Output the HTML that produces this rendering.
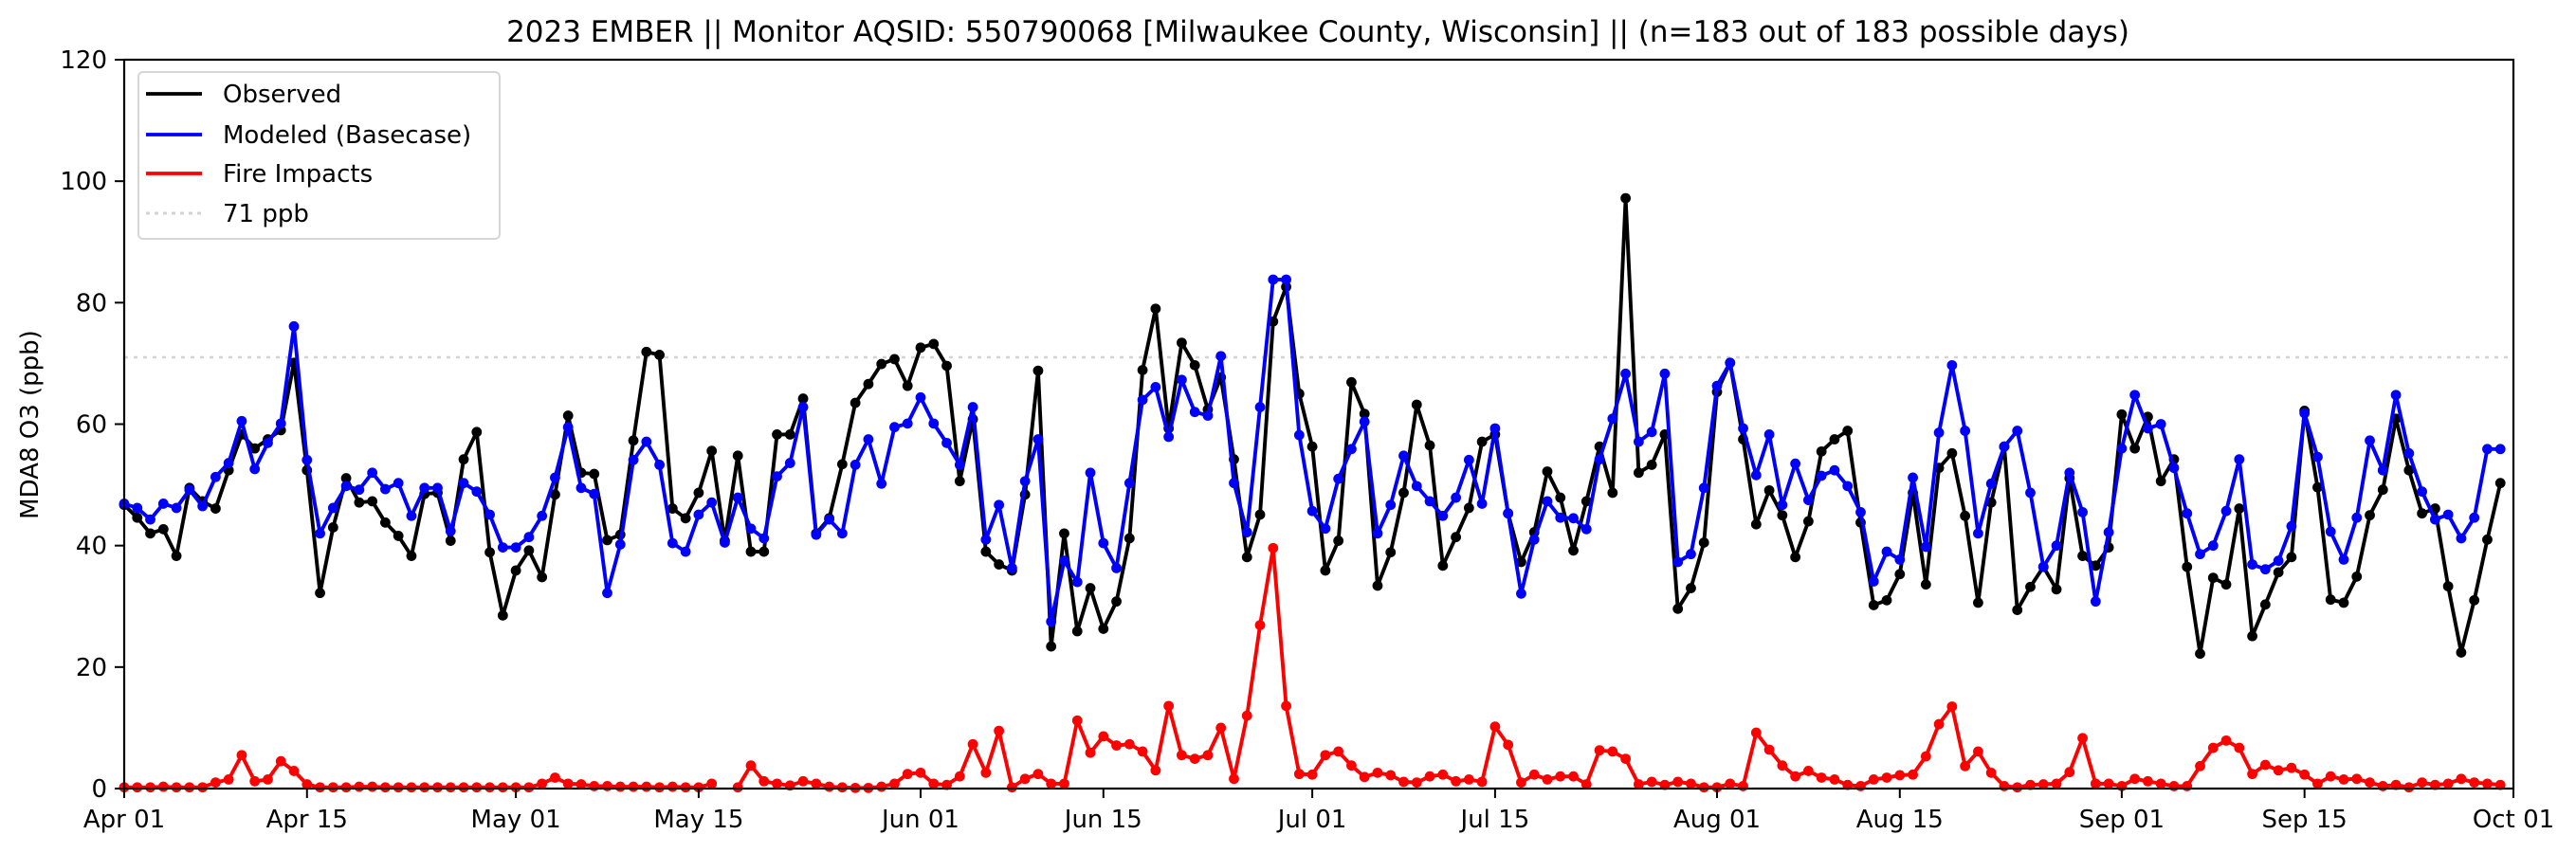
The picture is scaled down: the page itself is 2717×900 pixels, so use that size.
<!DOCTYPE html>
<html><head><meta charset="utf-8"><style>
html,body{margin:0;padding:0;background:#fff;}
svg{display:block;font-family:"DejaVu Sans","Liberation Sans",sans-serif;}
</style></head><body>
<svg id="chart" width="2717" height="900" viewBox="0 0 2717 900" xmlns="http://www.w3.org/2000/svg">
<rect x="0" y="0" width="2717" height="900" fill="#fff"/>
<text x="1390" y="44" font-size="31" text-anchor="middle" fill="#000">2023 EMBER || Monitor AQSID: 550790068 [Milwaukee County, Wisconsin] || (n=183 out of 183 possible days)</text>
<text x="0" y="0" font-size="26" text-anchor="middle" fill="#000" transform="translate(40,448) rotate(-90)">MDA8 O3 (ppb)</text>
<g id="grid"></g>
<g id="series"></g>
<rect x="131" y="63" width="2520" height="769" fill="none" stroke="#000" stroke-width="2.2"/>
<g id="axes"></g>
<g>
<rect x="146" y="76" width="381" height="176" rx="5" fill="#fff" fill-opacity="0.8" stroke="#d6d6d6" stroke-width="2"/>
<g><line x1="154" y1="99" x2="213" y2="99" stroke="#000" stroke-width="3.8"/><text x="235" y="108" font-size="26">Observed</text></g>
<g><line x1="154" y1="142" x2="213" y2="142" stroke="#0000ff" stroke-width="3.8"/><text x="235" y="151" font-size="26">Modeled (Basecase)</text></g>
<g><line x1="154" y1="183" x2="213" y2="183" stroke="#ff0000" stroke-width="3.8"/><text x="235" y="192" font-size="26">Fire Impacts</text></g>
<g><line x1="154" y1="225" x2="213" y2="225" stroke="#d3d3d3" stroke-width="3" stroke-dasharray="4,5"/><text x="235" y="234" font-size="26">71 ppb</text></g>
</g>
</svg>
<script>
const observed = [46.7,44.6,42,42.7,38.3,49.5,47.3,46.1,52.4,58.3,
56,57.5,59,70.1,52.4,32.2,43,51.1,47.1,47.3,
43.8,41.6,38.3,48.5,48.7,40.8,54.2,58.7,38.9,28.5,
35.9,39.2,34.8,48.4,61.4,52,51.8,40.9,41.8,57.3,
71.9,71.4,46.1,44.5,48.7,55.6,40.8,54.8,39,39,
58.3,58.3,64.2,42,44.5,53.4,63.5,66.6,69.9,70.7,
66.3,72.6,73.2,69.6,50.6,60.8,39,36.9,35.9,48.4,
68.8,23.4,42,25.9,33,26.3,30.8,41.2,68.9,79,
59.3,73.4,69.7,62.4,67.7,54.2,38.1,45.1,76.9,82.6,
65,56.3,35.9,40.8,66.9,61.7,33.4,38.9,48.7,63.2,
56.5,36.7,41.4,46.2,57.1,58.3,45.3,37.3,42.2,52.2,
47.9,39.2,47.3,56.3,48.7,97.2,52,53.3,58.3,29.6,
33,40.5,65.3,70.1,57.5,43.5,49.1,45,38.1,44,
55.5,57.5,58.9,43.8,30.2,31,35.3,48.7,33.6,52.8,
55.2,44.9,30.6,47.1,56.3,29.4,33.2,36.5,32.8,51.1,
38.3,36.7,39.7,61.6,56,61.2,50.6,54.2,36.5,22.2,
34.7,33.6,46.1,25.1,30.3,35.6,38.1,62.2,49.6,31.1,
30.6,34.9,45,49.2,60.9,52.4,45.3,46.1,33.3,22.4,
31,41,50.3];
const modeled = [46.9,46.2,44.3,46.9,46.2,49.2,46.5,51.3,53.6,60.5,
52.6,56.9,60.1,76.1,54.1,42,46.2,49.8,49.2,52,
49.3,50.3,44.9,49.5,49.5,42.4,50.3,48.9,45.1,39.7,
39.7,41.4,44.9,51.2,59.5,49.5,48.5,32.2,40.2,54.1,
57.1,53.3,40.4,39,45.1,47.1,40.5,47.9,42.8,41.2,
51.4,53.6,62.8,41.8,44.3,42,53.3,57.5,50.2,59.5,
60.1,64.4,60.1,56.9,53.3,62.8,41,46.7,36.3,50.6,
57.5,27.5,37.5,34,52,40.4,36.3,50.3,64,66.1,
57.9,67.3,62,61.4,71.2,50.3,42.2,62.8,83.8,83.8,
58.2,45.7,42.8,51,55.9,60.4,42,46.7,54.8,49.8,
47.3,44.9,47.9,54.1,46.9,59.3,45.3,32.1,41,47.3,
44.6,44.5,42.7,54.2,60.9,68.3,57.1,58.7,68.3,37.3,
38.6,49.5,66.3,70.1,59.3,51.6,58.3,46.7,53.5,47.5,
51.5,52.4,49.8,45.5,34.1,39,37.7,51.2,39.8,58.6,
69.7,58.9,42,50.2,56.3,58.9,48.7,36.5,40,52,
45.5,30.8,42.2,56,64.8,59.3,60,52.8,45.3,38.6,
40,45.7,54.2,36.9,36.1,37.5,43.2,61.8,54.6,42.3,
37.7,44.6,57.3,52.4,64.8,55.2,48.9,44.3,45.1,41.2,
44.6,55.9,55.9];
const fire = [0.2,0.2,0.2,0.3,0.2,0.2,0.2,1,1.5,5.5,
1.2,1.5,4.5,2.9,0.7,0.2,0.2,0.2,0.3,0.3,
0.2,0.2,0.2,0.2,0.2,0.2,0.2,0.2,0.2,0.2,
0.2,0.2,0.8,1.8,0.8,0.7,0.4,0.4,0.3,0.3,
0.3,0.2,0.3,0.2,0.2,0.8,null,0.2,3.8,1.2,
0.8,0.5,1.2,0.8,0.3,0.2,0.1,0.1,0.3,0.8,
2.4,2.6,0.8,0.6,2,7.3,2.6,9.5,0.2,1.6,
2.4,0.8,0.8,11.2,5.9,8.6,7.1,7.3,6.1,3,
13.6,5.5,4.9,5.5,10,1.6,12,26.9,39.6,13.6,
2.4,2.3,5.5,6.1,3.8,1.9,2.6,2.2,1.1,1,
2,2.3,1.2,1.5,1.1,10.2,7.2,1,2.3,1.5,
2,2,0.7,6.3,6.1,4.9,0.7,1.1,0.6,1.1,
0.8,0.2,0.2,0.8,0.4,9.2,6.4,3.8,2,2.9,
1.8,1.5,0.6,0.4,1.5,1.8,2.2,2.3,5.3,10.6,
13.5,3.7,6.1,2.6,0.4,0.2,0.6,0.7,0.8,2.7,
8.3,0.8,0.8,0.4,1.6,1.2,0.8,0.4,0.4,3.7,
6.7,7.9,6.7,2.4,3.9,3,3.4,2.3,0.8,2,
1.5,1.6,1,0.4,0.6,0.2,1,0.6,0.8,1.6,
1,0.8,0.6];
const threshold = 71;
const xTickDays = [0,14,30,44,61,75,91,105,122,136,153,167,183];
const xTickLabels = ["Apr 01","Apr 15","May 01","May 15","Jun 01","Jun 15","Jul 01","Jul 15","Aug 01","Aug 15","Sep 01","Sep 15","Oct 01"];
const yTicks = [0,20,40,60,80,100,120];

const NS = "http://www.w3.org/2000/svg";
const X0 = 131, X1 = 2651, Y0 = 832, Y1 = 63, DAYS = 183, YMAX = 120;
function xs(d){ return X0 + (X1 - X0) * d / DAYS; }
function ys(v){ return Y0 - (Y0 - Y1) * v / YMAX; }
function mk(tag, attrs, parent){
  const el = document.createElementNS(NS, tag);
  for (const k in attrs) el.setAttribute(k, attrs[k]);
  parent.appendChild(el);
  return el;
}
const grid = document.getElementById('grid');
const series = document.getElementById('series');
const axes = document.getElementById('axes');

const hl = mk('line', {x1: X0, x2: X1, y1: ys(threshold), y2: ys(threshold), stroke: '#d3d3d3', 'stroke-width': 2.6, 'stroke-dasharray': '4,6'}, grid);



function drawSeries(vals, color, name){
  const g = mk('g', {}, series);
  
  
  let d = '', pen = false;
  vals.forEach((v, i) => {
    if (v === null) { pen = false; return; }
    d += (pen ? 'L' : 'M') + xs(i).toFixed(2) + ' ' + ys(v).toFixed(2);
    pen = true;
  });
  const p = mk('path', {d: d, fill: 'none', stroke: color, 'stroke-width': 3.9, 'stroke-linejoin': 'round'}, g);
  
  
  vals.forEach((v, i) => {
    if (v === null) return;
    const c = mk('circle', {cx: xs(i), cy: ys(v), r: 5.4, fill: color}, g);
    
    
  });
}
drawSeries(observed, '#000000', 'observed');
drawSeries(modeled, '#0000ff', 'modeled');
drawSeries(fire, '#ff0000', 'fire-impacts');

yTicks.forEach(v => {
  const t = mk('line', {x1: X0 - 10, x2: X0, y1: ys(v), y2: ys(v), stroke: '#000', 'stroke-width': 2}, axes);
  
  
  const l = mk('text', {x: X0 - 18, y: ys(v) + 9, 'font-size': 26, 'text-anchor': 'end', fill: '#000'}, axes);
  l.textContent = String(v);
  
  
});
xTickDays.forEach((d, i) => {
  const t = mk('line', {x1: xs(d), x2: xs(d), y1: Y0, y2: Y0 + 10, stroke: '#000', 'stroke-width': 2}, axes);
  
  
  const l = mk('text', {x: xs(d), y: Y0 + 41, 'font-size': 26, 'text-anchor': 'middle', fill: '#000'}, axes);
  l.textContent = xTickLabels[i];
  
  
});
</script>
</body></html>
